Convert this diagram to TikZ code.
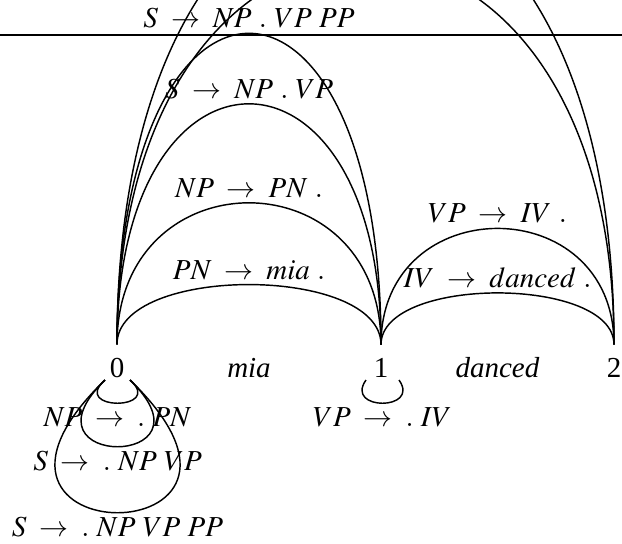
\documentclass[tikz,border=0pt]{standalone}
\usepackage{mathptmx}
\usepackage{fontspec}
\setmainfont{Liberation Serif}
\usetikzlibrary{calc}

\tikzset{
  vertex/.style={inner sep=4.5pt},
  word/.style={inner sep=0pt, font=\itshape},
  lab/.style={inner sep=1.5pt},
  looplab/.style={inner sep=1.2pt},
}

\begin{document}
\begin{tikzpicture}[x=0.345pt,y=-0.345pt,line width=0.5pt]

\useasboundingbox (0,0) rectangle (622,543);
\clip (0,0) rectangle (622,543);

% Vertices and words
\node[vertex] (n0) at (117,368) {0};
\node[vertex] (n1) at (381,368) {1};
\node[vertex] (n2) at (614,368) {2};
\node[word] (mia) at ($(n0)!0.5!(n1)$) {mia};
\node[word] (danced) at ($(n1)!0.5!(n2)$) {danced};

% Rule across the top
\coordinate (ruleL) at (0,35);
\coordinate (ruleR) at (622,35);
\draw[line width=0.7pt] (ruleL) -- (ruleR);

% Edges from 0 to 1
\draw (n0.north) .. controls +(0,-80) and +(0,-80) .. (n1.north)
  node[lab, pos=0.5, above] (e1) {$PN \;\rightarrow\; mia\ .$};
\draw (n0.north) .. controls +(0,-189) and +(0,-189) .. (n1.north)
  node[lab, pos=0.5, above] (e2) {$NP \;\rightarrow\; PN\ .$};
\draw (n0.north) .. controls +(0,-321) and +(0,-321) .. (n1.north)
  node[lab, pos=0.5, above] (e3) {$S \;\rightarrow\; NP\ .\ VP$};
\draw (n0.north) .. controls +(0,-415) and +(0,-415) .. (n1.north)
  node[lab, pos=0.5, above] (e4) {$S \;\rightarrow\; NP\ .\ VP\ PP$};

% Edges from 1 to 2
\draw (n1.north) .. controls +(0,-69) and +(0,-69) .. (n2.north)
  node[lab, pos=0.5, above] (e5) {$IV \;\rightarrow\; danced\ .$};
\draw (n1.north) .. controls +(0,-155) and +(0,-155) .. (n2.north)
  node[lab, pos=0.5, above] (e6) {$VP \;\rightarrow\; IV\ .$};

% Edges from 0 to 2 (run off the top)
\draw (n0.north) .. controls +(0,-511) and +(0,-511) .. (n2.north);
\draw (n0.north) .. controls +(0,-605) and +(0,-605) .. (n2.north);

% Empty edges under 0 and 1
\draw ($(n0)+(-12,12)$) .. controls +(-35,31) and +(35,31) .. ($(n0)+(13,12)$)
  node[looplab, pos=0.5, below] (l1) {$NP \;\rightarrow\; .\ PN$};
\draw ($(n0)+(-12,12)$) .. controls +(-92,89) and +(92,89) .. ($(n0)+(13,12)$)
  node[looplab, pos=0.5, below] (l2) {$S \;\rightarrow\; .\ NP\ VP$};
\draw ($(n0)+(-12,12)$) .. controls +(-183,177) and +(183,177) .. ($(n0)+(13,12)$)
  node[looplab, pos=0.5, below] (l3) {$S \;\rightarrow\; .\ NP\ VP\ PP$};
\draw ($(n1)+(-15,12)$) .. controls +(-22,31) and +(22,31) .. ($(n1)+(18,12)$)
  node[looplab, pos=0.5, below] (l4) {$VP \;\rightarrow\; .\ IV$};

\end{tikzpicture}
\end{document}
